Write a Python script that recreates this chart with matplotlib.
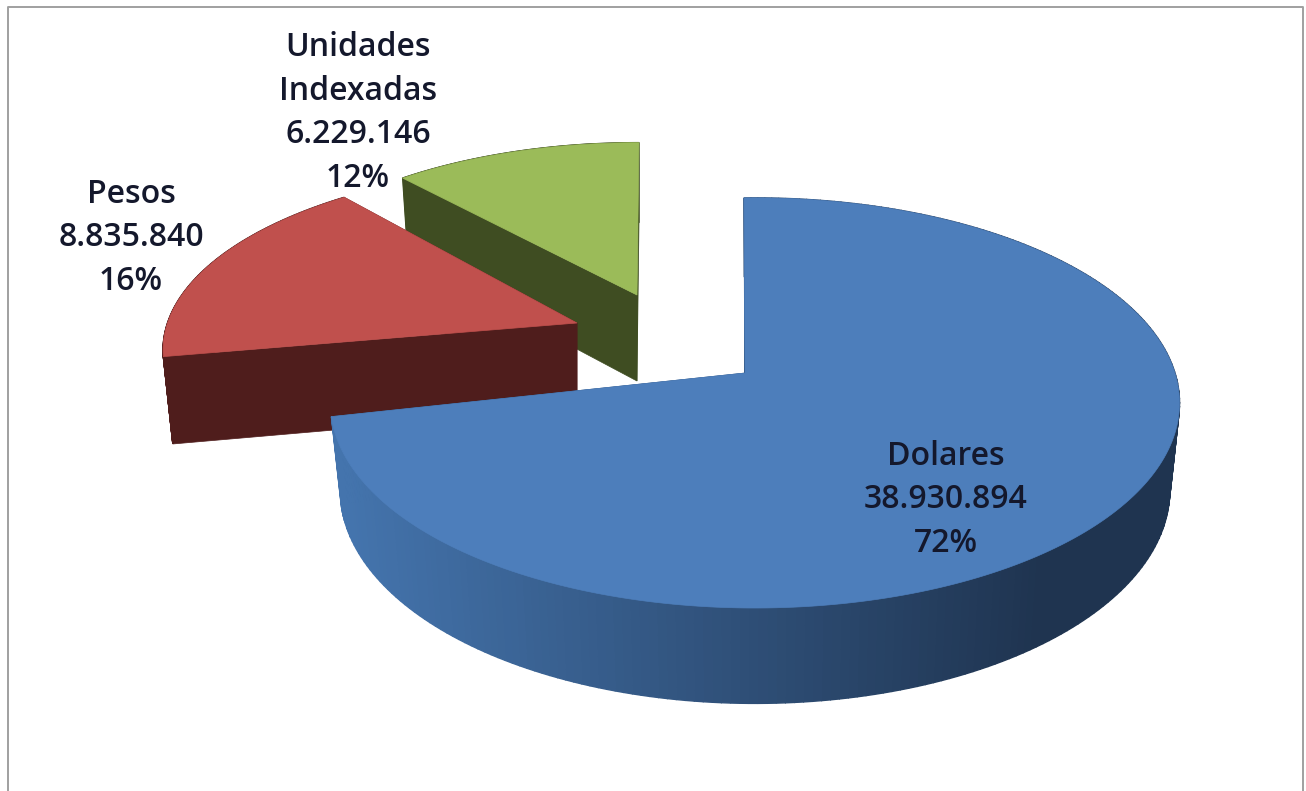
import numpy as np
import matplotlib.pyplot as plt
from matplotlib.patches import Polygon

# Datos
nombres = ['Dolares', 'Pesos', 'Unidades\nIndexadas']
valores = [38930894, 8835840, 6229146]

# Estilo de cada porcion
color_top = ['#4d7ebb', '#c0504d', '#9bbb59']
color_cara = ['#2c4d75', '#4f1d1c', '#3f4d22']
apex = [(745, 373), (577, 323), (637, 295)]
escala = [(1.0, 1.0), (0.975, 0.9), (0.93, 0.87)]
borde_dx = [10, 0, 2]  # el arco no queda centrado sobre el vertice
ajuste = [(-0.03, -0.03), (0, 0.04), (-0.01, 0)]  # correccion de angulos en radianes
label_pos = [(946, 500), (131, 238), (358, 113)]

R, S, K = 420, 200.7, 0.146
ALTO = 86


def proyectar(ang, r, centro, esc, abajo=False, dx=0):
    # angulo desde el norte, sentido horario, con perspectiva simple
    u = r * np.sin(ang)
    v = r * np.cos(ang)
    w = 1 + K * v
    x = R * u / w * esc[0]
    y = -S * v / w * esc[1]
    if abajo:
        return centro[0] + dx + x * 0.977, centro[1] + y * 1.04 + ALTO
    return centro[0] + dx + x, centro[1] + y


def mezcla(c1, c2, t):
    a = np.array(plt.matplotlib.colors.to_rgb(c1))
    b = np.array(plt.matplotlib.colors.to_rgb(c2))
    return a + (b - a) * t


fig = plt.figure(figsize=(13.06, 7.91), dpi=100)
ax = fig.add_axes([0, 0, 1, 1])
ax.set_xlim(0, 1306)
ax.set_ylim(791, 0)
ax.axis('off')

# marco del grafico
ax.plot([8, 8, 1303, 1303], [791, 7, 7, 791], color='#a0a0a0', lw=1.4)

total = sum(valores)
fracc = np.array(valores) / total
bordes = np.concatenate([[0], np.cumsum(fracc)]) * 2 * np.pi

# de atras hacia adelante
for i in [2, 1, 0]:
    a0, a1 = bordes[i] + ajuste[i][0], bordes[i + 1] + ajuste[i][1]
    ang = np.linspace(a0, a1, 240)
    c, e, dx = apex[i], escala[i], borde_dx[i]

    # caras radiales
    for a in (a0, a1):
        xt, yt = proyectar(a, 1, c, e, dx=dx)
        xb, yb = proyectar(a, 1, c, e, abajo=True, dx=dx)
        xc, yc = c[0], c[1] + ALTO
        ax.add_patch(Polygon([c, (xt, yt), (xb, yb), (xc, yc)], closed=True,
                             fc=color_cara[i], ec=color_cara[i], lw=0.5))

    # pared exterior con degradado en el azul
    xt, yt = proyectar(ang, 1, c, e, dx=dx)
    xb, yb = proyectar(ang, 1, c, e, abajo=True, dx=dx)
    for j in range(len(ang) - 1):
        if i == 0:
            t = np.clip((xt[j] - 345) / 700, 0, 1)
            col = mezcla('#4474ad', '#1f3450', t)
        else:
            col = color_cara[i]
        ax.add_patch(Polygon([(xt[j], yt[j]), (xt[j + 1], yt[j + 1]),
                              (xb[j + 1], yb[j + 1]), (xb[j], yb[j])],
                             closed=True, fc=col, ec=col, lw=1.0))

    # tapa
    pts = [c] + list(zip(xt, yt))
    ax.add_patch(Polygon(pts, closed=True, fc=color_top[i], ec=color_top[i], lw=0.5))

# etiquetas
for i in range(3):
    miles = f'{valores[i]:,}'.replace(',', '.')
    txt = f'{nombres[i]}\n{miles}\n{round(fracc[i] * 100)}%'
    ax.text(label_pos[i][0], label_pos[i][1], txt, ha='center', va='center',
            family='Open Sans', fontsize=23, fontweight='semibold', color='#14182c',
            linespacing=1.43)

fig.savefig('out.png', dpi=100, facecolor='white')
